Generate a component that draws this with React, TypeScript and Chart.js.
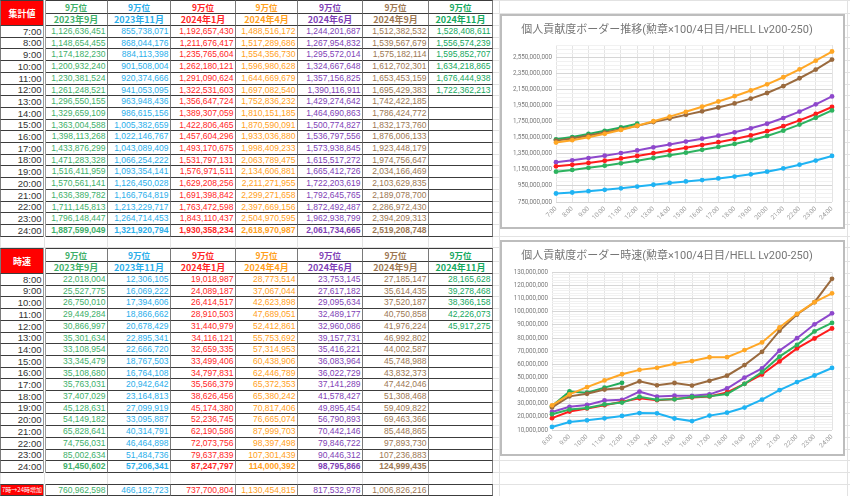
import React, { useEffect, useRef } from 'react';
import { Chart, registerables } from 'chart.js';
Chart.register(...registerables);

// ---------- DATA ----------
const rankLabel = '9万位';
const periods = ['2023年9月', '2023年11月', '2024年1月', '2024年4月', '2024年6月', '2024年9月', '2024年11月'];
const hoursCum = ['7:00', '8:00', '9:00', '10:00', '11:00', '12:00', '13:00', '14:00', '15:00', '16:00', '17:00', '18:00', '19:00', '20:00', '21:00', '22:00', '23:00', '24:00'];
const hoursRate = ['8:00', '9:00', '10:00', '11:00', '12:00', '13:00', '14:00', '15:00', '16:00', '17:00', '18:00', '19:00', '20:00', '21:00', '22:00', '23:00', '24:00'];

const cum2023Sep = [1126636451, 1148654455, 1174182230, 1200932240, 1230381524, 1261248521, 1296550155, 1329659109, 1363004588, 1398113268, 1433876299, 1471283328, 1516411959, 1570561141, 1636389782, 1711145813, 1796148447, 1887599049];
const cum2023Nov = [855738071, 868044176, 884113398, 901508004, 920374666, 941053095, 963948436, 986615156, 1005382659, 1022146767, 1043089409, 1066254222, 1093354141, 1126450028, 1166764819, 1213229717, 1264714453, 1321920794];
const cum2024Jan = [1192657430, 1211676417, 1235765604, 1262180121, 1291090624, 1322531603, 1356647724, 1389307059, 1422806465, 1457604296, 1493170675, 1531797131, 1576971511, 1629208256, 1691398842, 1763472598, 1843110437, 1930358234];
const cum2024Apr = [1488516172, 1517289686, 1554356730, 1596980628, 1644669679, 1697082540, 1752836232, 1810151185, 1870590091, 1933036880, 1998409233, 2063789475, 2134606881, 2211271955, 2299271658, 2397669156, 2504970595, 2618970987];
const cum2024Jun = [1244201687, 1267954832, 1295572014, 1324667648, 1357156825, 1390116911, 1429274642, 1464690863, 1500774827, 1536797556, 1573938845, 1615517272, 1665412726, 1722203619, 1792645765, 1872492487, 1962938799, 2061734665];
const cum2024Sep = [1512382532, 1539567679, 1575182114, 1612702301, 1653453159, 1695429383, 1742422185, 1786424772, 1832173760, 1876006133, 1923448179, 1974756647, 2034166469, 2103629835, 2189078700, 2286972430, 2394209313, 2519208748];
const cum2024Nov = [1528408611, 1556574239, 1595852707, 1634218865, 1676444938, 1722362213];

const rate2023Sep = [22018004, 25527775, 26750010, 29449284, 30866997, 35301634, 33108954, 33345479, 35108680, 35763031, 37407029, 45128631, 54149182, 65828641, 74756031, 85002634, 91450602];
const rate2023Nov = [12306105, 16069222, 17394606, 18866662, 20678429, 22895341, 22666720, 18767503, 16764108, 20942642, 23164813, 27099919, 33095887, 40314791, 46464898, 51484736, 57206341];
const rate2024Jan = [19018987, 24089187, 26414517, 28910503, 31440979, 34116121, 32659335, 33499406, 34797831, 35566379, 38626456, 45174380, 52236745, 62190586, 72073756, 79637839, 87247797];
const rate2024Apr = [28773514, 37067044, 42623898, 47689051, 52412861, 55753692, 57314953, 60438906, 62446789, 65372353, 65380242, 70817406, 76665074, 87999703, 98397498, 107301439, 114000392];
const rate2024Jun = [23753145, 27617182, 29095634, 32489177, 32960086, 39157731, 35416221, 36083964, 36022729, 37141289, 41578427, 49895454, 56790893, 70442146, 79846722, 90446312, 98795866];
const rate2024Sep = [27185147, 35614435, 37520187, 40750858, 41976224, 46992802, 44002587, 45748988, 43832373, 47442046, 51308468, 59409822, 69463366, 85448865, 97893730, 107236883, 124999435];
const rate2024Nov = [28165628, 39278468, 38366158, 42226073, 45917275];

const increase7to24 = [760962598, 466182723, 737700804, 1130454815, 817532978, 1006826216, null];

const cumTitle = '個人貢献度ボーダー推移(勲章×100/4日目/HELL Lv200-250)';
const rateTitle = '個人貢献度ボーダー時速(勲章×100/4日目/HELL Lv200-250)';
const cumYTicks = [750000000, 950000000, 1150000000, 1350000000, 1550000000, 1750000000, 1950000000, 2150000000, 2350000000, 2550000000];
const rateYTicks = [10000000, 20000000, 30000000, 40000000, 50000000, 60000000, 70000000, 80000000, 90000000, 100000000, 110000000, 120000000, 130000000];

const cumSeries = [cum2023Sep, cum2023Nov, cum2024Jan, cum2024Apr, cum2024Jun, cum2024Sep, cum2024Nov];
const rateSeries = [rate2023Sep, rate2023Nov, rate2024Jan, rate2024Apr, rate2024Jun, rate2024Sep, rate2024Nov];

// ---------- STYLE ----------
const textColors = ['#3daf69', '#2aaeea', '#ff2626', '#ffa01c', '#7f3fb6', '#9d7752', '#15a85e'];
const lineColors = ['#2db35f', '#1fb3f3', '#ff1c1c', '#ffa726', '#8e48cc', '#9a6a3e', '#22ad5c'];

const fmt = (v: number) => v.toLocaleString('en-US');
const colX = [0, 44, 107, 170, 235, 297, 362, 428, 492];
const ROW_H = 11.7;

type CellProps = { x0: number; x1: number; y0: number; y1: number; children?: any; style?: any; align?: string };
function Cell({ x0, x1, y0, y1, children, style, align }: CellProps) {
  const top = Math.round(y0);
  const bottom = Math.round(y1);
  return (
    <div
      style={{
        position: 'absolute',
        left: x0,
        top,
        width: x1 - x0 + 1,
        height: bottom - top + 1,
        boxSizing: 'border-box',
        borderTop: '1px solid #3c3c3c',
        borderBottom: '1px solid #3c3c3c',
        borderLeft: '1px solid #7a7a7a',
        borderRight: '1px solid #7a7a7a',
        background: '#fff',
        display: 'flex',
        alignItems: 'center',
        justifyContent: align === 'center' ? 'center' : 'flex-end',
        paddingRight: align === 'center' ? 0 : 1.5,
        overflow: 'hidden',
        whiteSpace: 'nowrap',
        fontFamily: '"Liberation Sans", Arial, sans-serif',
        fontSize: 8.5,
        lineHeight: 1,
        ...style,
      }}
    >
      {children}
    </div>
  );
}

function TableBlock({ top, label, rows, series, boldLastRow }: { top: number; label: string; rows: string[]; series: number[][]; boldLastRow: boolean }) {
  const cells: any[] = [];
  const h1 = top, h2 = top + 12.5, d0 = top + 25;
  cells.push(
    <Cell key="lab" x0={colX[0]} x1={colX[1] - 1} y0={h1} y1={d0} align="center"
      style={{ background: '#ff0000', color: '#fff', fontWeight: 'bold', fontFamily: '"Noto Sans CJK JP", sans-serif', fontSize: 9 }}>
      {label}
    </Cell>
  );
  periods.forEach((p, j) => {
    cells.push(
      <Cell key={'r' + j} x0={colX[j + 1]} x1={colX[j + 2]} y0={h1} y1={h2} align="center"
        style={{ color: textColors[j], fontWeight: 'bold', fontFamily: '"Noto Sans CJK JP", sans-serif', fontSize: 8.5 }}>
        {rankLabel}
      </Cell>
    );
    cells.push(
      <Cell key={'p' + j} x0={colX[j + 1]} x1={colX[j + 2]} y0={h2} y1={d0} align="center"
        style={{ color: textColors[j], fontWeight: 'bold', fontFamily: '"Noto Sans CJK JP", sans-serif', fontSize: 9 }}>
        {p}
      </Cell>
    );
  });
  rows.forEach((r, i) => {
    const y0 = d0 + i * ROW_H, y1 = d0 + (i + 1) * ROW_H;
    const bold = boldLastRow && i === rows.length - 1;
    cells.push(
      <Cell key={'t' + i} x0={colX[0]} x1={colX[1] - 1} y0={y0} y1={y1} style={{ color: '#333', fontSize: 9.5 }}>
        {r}
      </Cell>
    );
    series.forEach((s, j) => {
      const v = s[i];
      cells.push(
        <Cell key={'c' + i + '_' + j} x0={colX[j + 1]} x1={colX[j + 2]} y0={y0} y1={y1}
          style={{ color: textColors[j], fontWeight: bold ? 'bold' : 'normal' }}>
          {v === undefined || v === null ? '' : fmt(v)}
        </Cell>
      );
    });
  });
  const bottom = d0 + rows.length * ROW_H;
  cells.push(
    <div key="dbl" style={{ position: 'absolute', left: 43, top: Math.round(top), width: 3, height: Math.round(bottom) - Math.round(top) + 1, boxSizing: 'border-box', borderLeft: '1px solid #9a9a9a', borderRight: '1px solid #9a9a9a', background: '#fff' }} />
  );
  return <>{cells}</>;
}

type LineChartProps = {
  labels: string[];
  series: number[][];
  title: string;
  yTicks: number[];
  yMin: number;
  yMax: number;
  minorStep: number;
  width: number;
  height: number;
  yWidth: number;
  xHeight: number;
  padRight: number;
  titlePad: { top: number; bottom: number };
};

function LineChart(p: LineChartProps) {
  const ref = useRef<HTMLCanvasElement>(null);
  useEffect(() => {
    const allTicks: number[] = [];
    for (let v = p.yMin; v <= p.yMax + 1; v += p.minorStep) allTicks.push(v);
    const majors = new Set(p.yTicks);
    const chart = new Chart(ref.current as HTMLCanvasElement, {
      type: 'line',
      data: {
        labels: p.labels,
        datasets: p.series.map((s, j) => ({
          label: periods[j],
          data: s,
          borderColor: lineColors[j],
          backgroundColor: lineColors[j],
          pointBackgroundColor: lineColors[j],
          pointBorderColor: lineColors[j],
          pointRadius: 2.4,
          pointBorderWidth: 0,
          borderWidth: 2,
          tension: 0,
          fill: false,
        })),
      },
      options: {
        animation: false,
        responsive: false,
        maintainAspectRatio: false,
        devicePixelRatio: 1,
        layout: { padding: { left: 0, right: p.padRight, top: 0, bottom: 1 } },
        plugins: {
          legend: { display: false },
          tooltip: { enabled: false },
          title: {
            display: true,
            text: p.title,
            color: '#767676',
            font: { family: 'Roboto, "Noto Sans CJK JP", sans-serif', size: 11, weight: 'normal' },
            padding: p.titlePad,
          },
        },
        scales: {
          x: {
            offset: false,
            grid: { color: '#e4e4e4', drawTicks: false, lineWidth: 1 },
            border: { display: false },
            ticks: {
              autoSkip: false,
              maxRotation: 45,
              minRotation: 45,
              color: '#9a9a9a',
              font: { family: 'Roboto, sans-serif', size: 6.4 },
              padding: 3,
            },
            afterFit: (s: any) => { s.height = p.xHeight; },
          },
          y: {
            min: p.yMin,
            max: p.yMax,
            afterBuildTicks: (s: any) => { s.ticks = allTicks.map((v) => ({ value: v })); },
            ticks: {
              autoSkip: false,
              color: '#7a7a7a',
              font: { family: 'Roboto, sans-serif', size: 6.3 },
              padding: 4,
              callback: (v: any) => (majors.has(Number(v)) ? fmt(Number(v)) : ''),
            },
            grid: {
              drawTicks: false,
              color: (ctx: any) => (ctx.tick && majors.has(ctx.tick.value) ? '#d6d6d6' : '#f1f1f1'),
            },
            border: { display: false },
            afterFit: (s: any) => { s.width = p.yWidth; },
          },
        },
      } as any,
    });
    return () => chart.destroy();
  }, []);
  return <canvas ref={ref} width={p.width} height={p.height} style={{ display: 'block', width: p.width, height: p.height }} />;
}

export default function App() {
  // sheet background gridlines
  const bgLines: any[] = [];
  const rowEdges: number[] = [0, 12.5, 25];
  for (let i = 1; i <= 18; i++) rowEdges.push(25 + i * ROW_H);
  const spacer1 = 25 + 19 * ROW_H;
  rowEdges.push(spacer1);
  const bTop = 248;
  rowEdges.push(bTop + 12.5, bTop + 25);
  for (let i = 1; i <= 17; i++) rowEdges.push(bTop + 25 + i * ROW_H);
  const bEnd = bTop + 25 + 17 * ROW_H;
  rowEdges.push(bEnd + ROW_H, bEnd + 2 * ROW_H + 0.5);
  rowEdges.forEach((y, i) =>
    bgLines.push(<div key={'h' + i} style={{ position: 'absolute', left: 0, top: Math.round(y), width: 850, height: 1, background: '#e2e2e2' }} />)
  );
  [...colX, 499, 847].forEach((x, i) =>
    bgLines.push(<div key={'v' + i} style={{ position: 'absolute', left: x, top: 0, width: 1, height: 496, background: '#e2e2e2' }} />)
  );

  const totalY0 = bEnd + ROW_H;
  const totalY1 = totalY0 + ROW_H;

  return (
    <div style={{ position: 'absolute', left: 0, top: 0, width: 850, height: 496, overflow: 'hidden', background: '#fff' }}>
      {bgLines}
      <TableBlock top={0} label="集計値" rows={hoursCum} series={cumSeries} boldLastRow={true} />
      <TableBlock top={bTop} label="時速" rows={hoursRate} series={rateSeries} boldLastRow={true} />
      <Cell x0={colX[0]} x1={colX[1] - 1} y0={totalY0} y1={totalY1} align="center"
        style={{ background: '#ff0000', color: '#fff', fontFamily: '"Noto Sans CJK JP", sans-serif', fontSize: 6, justifyContent: 'flex-start', paddingLeft: 1 }}>
        7時→24時増加
      </Cell>
      {increase7to24.map((v, j) => (
        <Cell key={'inc' + j} x0={colX[j + 1]} x1={colX[j + 2]} y0={totalY0} y1={totalY1} style={{ color: textColors[j] }}>
          {v === null ? '' : fmt(v)}
        </Cell>
      ))}
      <div style={{ position: 'absolute', left: 43, top: Math.round(totalY0), width: 3, height: 13, boxSizing: 'border-box', borderLeft: '1px solid #9a9a9a', borderRight: '1px solid #9a9a9a', background: '#fff' }} />

      <div style={{ position: 'absolute', left: 500, top: 14, width: 345, height: 215, boxSizing: 'border-box', border: '2px solid #bdbdbd', background: '#fff' }}>
        <LineChart labels={hoursCum} series={cumSeries} title={cumTitle} yTicks={cumYTicks}
          yMin={750000000} yMax={2700000000} minorStep={50000000}
          width={341} height={211} yWidth={54} xHeight={24} padRight={11} titlePad={{ top: 8.1, bottom: 7.7 }} />
      </div>
      <div style={{ position: 'absolute', left: 500, top: 240, width: 345, height: 216, boxSizing: 'border-box', border: '2px solid #bdbdbd', background: '#fff' }}>
        <LineChart labels={hoursRate} series={rateSeries} title={rateTitle} yTicks={rateYTicks}
          yMin={10000000} yMax={130000000} minorStep={2000000}
          width={341} height={212} yWidth={50} xHeight={23} padRight={11} titlePad={{ top: 7.4, bottom: 9.7 }} />
      </div>
    </div>
  );
}
